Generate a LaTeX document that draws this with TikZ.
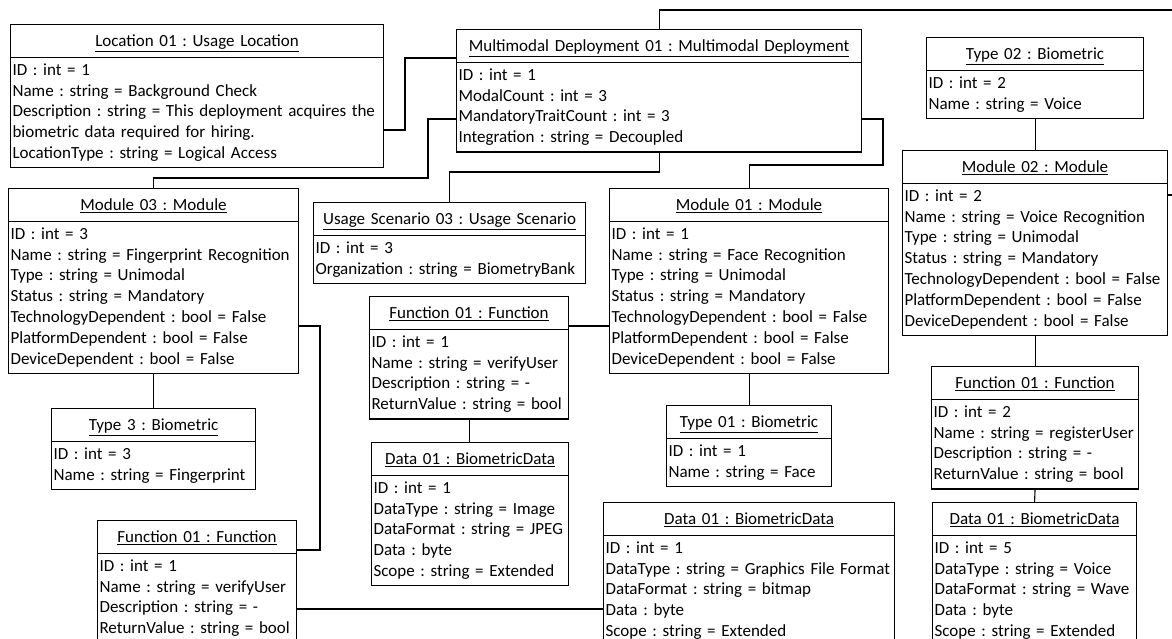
\documentclass[tikz,border=0pt]{standalone}
\usepackage{fontspec}
\setmainfont{Carlito}
\usetikzlibrary{shapes.multipart}
\newcommand\objfont{\fontsize{17}{20.8}\selectfont\frenchspacing}
\newcommand\objtitle[1]{\centering\rule[-8pt]{0pt}{27pt}\underline{#1}\par}
\newcommand\objrows[1]{\raggedright\strut#1\strut\par}

\begin{document}
\begin{tikzpicture}[
    x=1pt, y=-1pt,
    object/.style={
      draw, line width=1.1pt,
      rectangle split, rectangle split parts=2,
      anchor=north west, inner xsep=2pt, inner ysep=2.5pt,
      font=\objfont, text width=#1
    },
    link/.style={
      line width=1.1pt
    }
  ]
    \useasboundingbox (0,0) rectangle (1172,638);
    \clip (0,0) rectangle (1172,638);

    \node[object=369pt] (loc) at (10,24) {\objtitle{Location 01 : Usage Location}
      \nodepart{second}\objrows{ID : int = 1\\ Name : string = Background Check\\
      Description : string = This deployment acquires the\\ biometric data required for hiring.\\
      LocationType : string = Logical Access}};
    \node[object=401pt] (mmd) at (456,29) {\objtitle{Multimodal Deployment 01 : Multimodal Deployment}
      \nodepart{second}\objrows{ID : int = 1\\ ModalCount : int = 3\\
      MandatoryTraitCount : int = 3\\ Integration : string = Decoupled}};
    \node[object=213pt] (type2) at (926,37) {\objtitle{Type 02 : Biometric}
      \nodepart{second}\objrows{ID : int = 2\\ Name : string = Voice}};

    \node[object=286pt] (mod3) at (8,188) {\objtitle{Module 03 : Module}
      \nodepart{second}\objrows{ID : int = 3\\ Name : string = Fingerprint Recognition\\
      Type : string = Unimodal\\ Status : string = Mandatory\\
      TechnologyDependent : bool = False\\ PlatformDependent : bool = False\\
      DeviceDependent : bool = False}};
    \node[object=268pt] (usc) at (313,202) {\objtitle{Usage Scenario 03 : Usage Scenario}
      \nodepart{second}\objrows{ID : int = 3\\ Organization : string = BiometryBank}};
    \node[object=275pt] (mod1) at (609,188) {\objtitle{Module 01 : Module}
      \nodepart{second}\objrows{ID : int = 1\\ Name : string = Face Recognition\\
      Type : string = Unimodal\\ Status : string = Mandatory\\
      TechnologyDependent : bool = False\\ PlatformDependent : bool = False\\
      DeviceDependent : bool = False}};
    \node[object=261pt] (mod2) at (902,150) {\objtitle{Module 02 : Module}
      \nodepart{second}\objrows{ID : int = 2\\ Name : string = Voice Recognition\\
      Type : string = Unimodal\\ Status : string = Mandatory\\
      TechnologyDependent : bool = False\\ PlatformDependent : bool = False\\
      DeviceDependent : bool = False}};

    \node[object=195pt] (fnC) at (369,296) {\objtitle{Function 01 : Function}
      \nodepart{second}\objrows{ID : int = 1\\ Name : string = verifyUser\\
      Description : string = -\\ ReturnValue : string = bool}};
    \node[object=200pt] (type3) at (51,408) {\objtitle{Type 3 : Biometric}
      \nodepart{second}\objrows{ID : int = 3\\ Name : string = Fingerprint}};
    \node[object=161pt] (type1) at (666,405) {\objtitle{Type 01 : Biometric}
      \nodepart{second}\objrows{ID : int = 1\\ Name : string = Face}};
    \node[object=193pt] (dataA) at (371,442) {\objtitle{Data 01 : BiometricData}
      \nodepart{second}\objrows{ID : int = 1\\ DataType : string = Image\\
      DataFormat : string = JPEG\\ Data : byte\\ Scope : string = Extended}};
    \node[object=203pt] (fnR) at (931,366) {\objtitle{Function 01 : Function}
      \nodepart{second}\objrows{ID : int = 2\\ Name : string = registerUser\\
      Description : string = -\\ ReturnValue : string = bool}};
    \node[object=200pt] (dataR) at (932,502) {\objtitle{Data 01 : BiometricData}
      \nodepart{second}\objrows{ID : int = 5\\ DataType : string = Voice\\
      DataFormat : string = Wave\\ Data : byte\\ Scope : string = Extended}};
    \node[object=195pt] (fnL) at (97,520) {\objtitle{Function 01 : Function}
      \nodepart{second}\objrows{ID : int = 1\\ Name : string = verifyUser\\
      Description : string = -\\ ReturnValue : string = bool}};
    \node[object=287pt] (dataB) at (603,502) {\objtitle{Data 01 : BiometricData}
      \nodepart{second}\objrows{ID : int = 1\\ DataType : string = Graphics File Format\\
      DataFormat : string = bitmap\\ Data : byte\\ Scope : string = Extended}};

    \coordinate (offTop) at (1190,10);
    \coordinate (offMod) at (1190,195);

    \draw[link] (loc.east |- 0,130) -| (405,58) -- (mmd.west |- 0,58);
    \draw[link] (mmd.west |- 0,119) -| (428,178) -| (mod3.north);
    \draw[link] (mmd.south) -- (mmd.south |- 0,172) -| (usc.north);
    \draw[link] (mmd.east |- 0,119) -| (883,165) -| (mod1.north);
    \draw[link] (mmd.north) |- (offTop);
    \draw[link] (type2.south) -- (mod2.north);
    \draw[link] (mod2.east |- offMod) -- (offMod);
    \draw[link] (mod2.south) -- (fnR.north);
    \draw[link] (fnR.south) -- (dataR.north);
    \draw[link] (mod3.south) -- (type3.north);
    \draw[link] (mod3.east |- 0,326) -| (320,550) -- (fnL.east |- 0,550);
    \draw[link] (fnC.east |- 0,326) -- (mod1.west |- 0,326);
    \draw[link] (fnC.south) -- (fnC.south |- dataA.north);
    \draw[link] (mod1.south) -- (type1.north);
    \draw[link] (fnL.east |- 0,609) -- (dataB.west |- 0,609);
  \end{tikzpicture}
\end{document}
